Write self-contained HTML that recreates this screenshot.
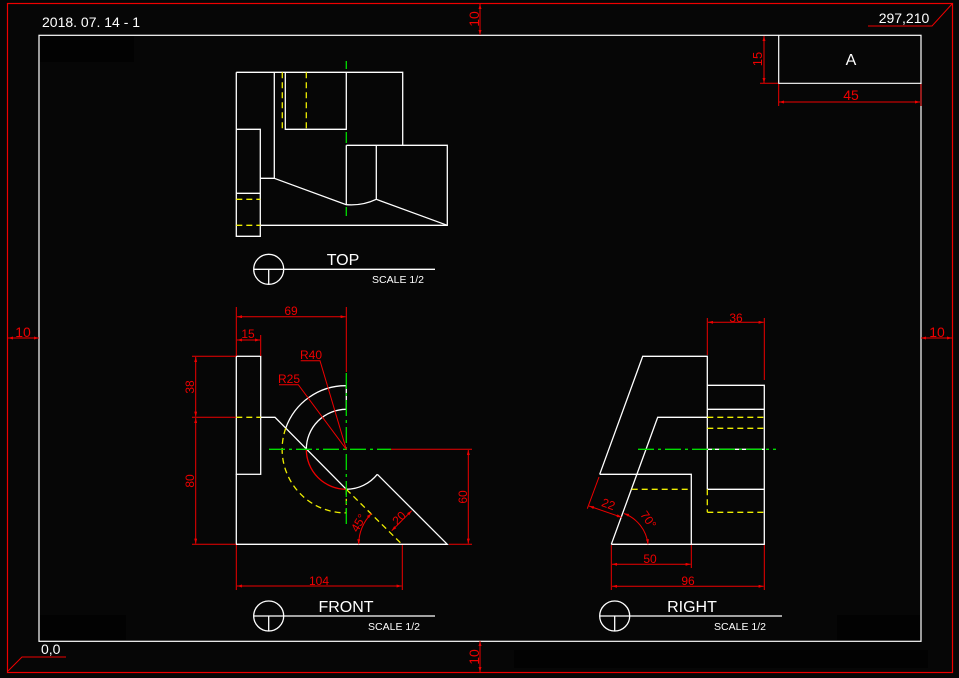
<!DOCTYPE html>
<html><head><meta charset="utf-8"><style>
html,body{margin:0;padding:0;background:#060606;}
svg{display:block;}
text{font-family:"Liberation Sans",sans-serif;}
</style></head><body>
<svg width="959" height="678" viewBox="0 0 959 678" xmlns="http://www.w3.org/2000/svg">
<defs>
<marker id="a" viewBox="0 0 10 6" refX="10" refY="3" markerWidth="7" markerHeight="3" orient="auto-start-reverse"><path d="M0,0L10,3L0,6z" fill="#e00"/></marker>
</defs>
<rect width="959" height="678" fill="#060606"/>
<rect x="40" y="36" width="94" height="26" fill="#020202"/>
<rect x="40" y="615" width="86" height="25" fill="#020202"/>
<rect x="837" y="615" width="83" height="25" fill="#020202"/>
<rect x="514" y="650" width="414" height="18" fill="#020202"/>
<rect x="7.5" y="3.5" width="945" height="669" fill="none" stroke="#e00" stroke-width="1.2"/>
<rect x="39" y="35.3" width="882" height="606" fill="none" stroke="#fff" stroke-width="1.2"/>
<path d="M778.7,35.3V83.3H921" fill="none" stroke="#fff" stroke-width="1.2"/>
<text x="851" y="65" fill="#fff" font-size="16" text-anchor="middle">A</text>
<g stroke="#e00" stroke-width="1" fill="none">
<path d="M764,36V83" marker-start="url(#a)" marker-end="url(#a)"/>
<path d="M760,83.3H778"/>
<path d="M779,102H920" marker-start="url(#a)" marker-end="url(#a)"/>
<path d="M778.7,84V106M921,84V106"/>
<path d="M868,26H932L952,4"/>
<path d="M66,657H22L8,671"/>
<path d="M480,4V35" marker-start="url(#a)" marker-end="url(#a)"/>
<path d="M480,641V672" marker-start="url(#a)" marker-end="url(#a)"/>
<path d="M8,338H39" marker-start="url(#a)" marker-end="url(#a)"/>
<path d="M921,338H952" marker-start="url(#a)" marker-end="url(#a)"/>
</g>
<text x="851" y="100" fill="#e00" font-size="14" text-anchor="middle">45</text>
<text transform="translate(762,59) rotate(-90)" fill="#e00" font-size="13" text-anchor="middle">15</text>
<text x="904" y="23" fill="#fff" font-size="14" text-anchor="middle">297,210</text>
<text x="41" y="654" fill="#fff" font-size="14">0,0</text>
<text x="42" y="27" fill="#fff" font-size="14">2018. 07. 14 - 1</text>
<text transform="translate(479,19) rotate(-90)" fill="#e00" font-size="14" text-anchor="middle">10</text>
<text transform="translate(479,657) rotate(-90)" fill="#e00" font-size="14" text-anchor="middle">10</text>
<text x="23" y="337" fill="#e00" font-size="14" text-anchor="middle">10</text>
<text x="937" y="337" fill="#e00" font-size="14" text-anchor="middle">10</text>

<g stroke="#fff" stroke-width="1.3" fill="none">
<path d="M236.3,72.3H402.7V145.3"/>
<path d="M346.3,145.3H447.3V225.3H260.3"/>
<path d="M236.3,72.3V236.3H260.3V129.3H236.3"/>
<path d="M236.3,193.3H260.3"/>
<path d="M274.3,72.3V178.3H260.3"/>
<path d="M274.3,178.3L346.3,204.7Q362,206 376.3,199.3L447.3,225.3"/>
<path d="M346.3,145.3V204.7M376.3,145.3V199.3"/>
<path d="M285.3,72.3V129.3H346.3V72.3"/>
</g>
<g stroke="#ee0" stroke-width="1.3" fill="none" stroke-dasharray="6,4">
<path d="M282.3,72.3V129.3H285.3M306.3,72.3V129.3"/>
<path d="M236.3,199.3H260.3M236.3,225.3H260.3"/>
</g>
<g stroke="#0d0" stroke-width="1.3">
<path d="M346.3,61V69M346.3,132V143M346.3,207V216"/>
</g>
<g stroke="#fff" stroke-width="1.3" fill="none">
<circle cx="268.7" cy="269.3" r="15"/><path d="M253.7,269.3H435M268.7,269.3V284"/>
<circle cx="268.7" cy="616" r="15"/><path d="M253.7,616H435M268.7,616V631"/>
<circle cx="614.7" cy="616" r="15"/><path d="M599.7,616H782M614.7,616V631"/>
</g>
<text x="343" y="265" fill="#fff" font-size="16" text-anchor="middle">TOP</text>
<text x="398" y="283" fill="#fff" font-size="10.5" text-anchor="middle">SCALE 1/2</text>
<text x="346" y="612" fill="#fff" font-size="16" text-anchor="middle">FRONT</text>
<text x="394" y="630" fill="#fff" font-size="10.5" text-anchor="middle">SCALE 1/2</text>
<text x="692" y="612" fill="#fff" font-size="16" text-anchor="middle">RIGHT</text>
<text x="740" y="630" fill="#fff" font-size="10.5" text-anchor="middle">SCALE 1/2</text>

<g stroke="#fff" stroke-width="1.3" fill="none">
<rect x="236.3" y="356.3" width="24.4" height="118"/>
<path d="M236.3,474.3V544.3H447.3L377.3,474.3"/>
<path d="M377.3,474.3A40,40 0 0 1 346.3,489.3"/>
<path d="M346.3,385.7A63.6,63.6 0 0 0 285.7,428.3"/>
<path d="M346.3,409.3A40,40 0 0 0 306.3,449.3"/>
<path d="M346.3,385.7V409.3"/>
<path d="M260.7,417.3H275L346.3,489.3"/>
</g>
<g stroke="#ee0" stroke-width="1.3" fill="none" stroke-dasharray="6,4">
<path d="M285.7,428.3A63.6,63.6 0 0 0 346.3,512.9V489.3"/>
<path d="M346.3,489.3L402,544.3"/>
<path d="M236.3,417.3H260.7"/>
</g>
<path d="M306.3,449.3A40,40 0 0 0 346.3,489.3" stroke="#e00" stroke-width="1.3" fill="none"/>
<g stroke="#0d0" stroke-width="1.3" fill="none" stroke-dasharray="16,4,3,4">
<path d="M269,449.3H391M346.3,373V524"/>
</g>
<g stroke="#e00" stroke-width="1" fill="none">
<path d="M391,449.3H472"/>
<path d="M236.3,307V356M346.3,307V372"/>
<path d="M237,316.7H345.6" marker-start="url(#a)" marker-end="url(#a)"/>
<path d="M260.7,335V356"/>
<path d="M237,340H260" marker-start="url(#a)" marker-end="url(#a)"/>
<path d="M192,356.3H236M192,417.3H236M192,544.3H236"/>
<path d="M195.7,357V416.6" marker-start="url(#a)" marker-end="url(#a)"/>
<path d="M195.7,418V543.6" marker-start="url(#a)" marker-end="url(#a)"/>
<path d="M449,544.3H472"/>
<path d="M468.3,450V543.6" marker-start="url(#a)" marker-end="url(#a)"/>
<path d="M236.3,545V590M402.3,545V590"/>
<path d="M237,586H401.6" marker-start="url(#a)" marker-end="url(#a)"/>
<path d="M346.3,449.3L320,360.7H300.7"/>
<path d="M346.3,449.3L298.3,384.7H279"/>
<path d="M358.7,544.3A43.5,43.5 0 0 1 371.5,513.5" marker-start="url(#a)" marker-end="url(#a)"/>
<path d="M391.7,530.7L411.7,510.7" marker-start="url(#a)" marker-end="url(#a)"/>
</g>
<g fill="#e00" font-size="12">
<text x="291" y="315" text-anchor="middle">69</text>
<text x="248" y="338" text-anchor="middle">15</text>
<text x="311" y="359" text-anchor="middle">R40</text>
<text x="289" y="383" text-anchor="middle">R25</text>
<text transform="translate(194,387) rotate(-90)" text-anchor="middle">38</text>
<text transform="translate(194,481) rotate(-90)" text-anchor="middle">80</text>
<text transform="translate(467,497) rotate(-90)" text-anchor="middle">60</text>
<text x="319" y="585" text-anchor="middle">104</text>
<text transform="translate(362,525) rotate(-60)" text-anchor="middle">45°</text>
<text transform="translate(402,521) rotate(-45)" text-anchor="middle">20</text>
</g>

<g stroke="#fff" stroke-width="1.3" fill="none">
<path d="M599.7,474.3L642.7,356.3H707.3V489.3"/>
<path d="M611.3,544.3H764.3V385.3H707.3"/>
<path d="M707.3,409.3H764.3M707.3,449.3H764.3M707.3,489.3H764.3"/>
<path d="M611.3,544.3L657.7,417.3H707.3"/>
<path d="M599.7,474.3H691.3V544.3"/>
</g>
<g stroke="#ee0" stroke-width="1.3" fill="none" stroke-dasharray="6,4">
<path d="M707.3,417.3H764.3M707.3,428.3H764.3M707.3,512.3H764.3M707.3,489.3V512.3"/>
<path d="M631.7,489.3H691.3"/>
</g>
<path d="M638,449.3H776" stroke="#0d0" stroke-width="1.3" stroke-dasharray="16,4,3,4"/>
<g stroke="#e00" stroke-width="1" fill="none">
<path d="M707.3,318V355M764.3,318V380"/>
<path d="M708,322.3H763.6" marker-start="url(#a)" marker-end="url(#a)"/>
<path d="M611.3,545V590M691.3,545V568M764.3,545V590"/>
<path d="M612,564.3H690.6" marker-start="url(#a)" marker-end="url(#a)"/>
<path d="M612,586.3H763.6" marker-start="url(#a)" marker-end="url(#a)"/>
<path d="M599,477L587.3,508.7"/>
<path d="M589,506L621.7,517.3" marker-start="url(#a)" marker-end="url(#a)"/>
<path d="M624,513.5A37,37 0 0 1 648,544.3" marker-start="url(#a)" marker-end="url(#a)"/>
</g>
<g fill="#e00" font-size="12">
<text x="736" y="322" text-anchor="middle">36</text>
<text x="650" y="563" text-anchor="middle">50</text>
<text x="688" y="585" text-anchor="middle">96</text>
<text transform="translate(607,508) rotate(20)" text-anchor="middle">22</text>
<text transform="translate(645,522) rotate(55)" text-anchor="middle">70°</text>
</g>
</svg>
</body></html>
